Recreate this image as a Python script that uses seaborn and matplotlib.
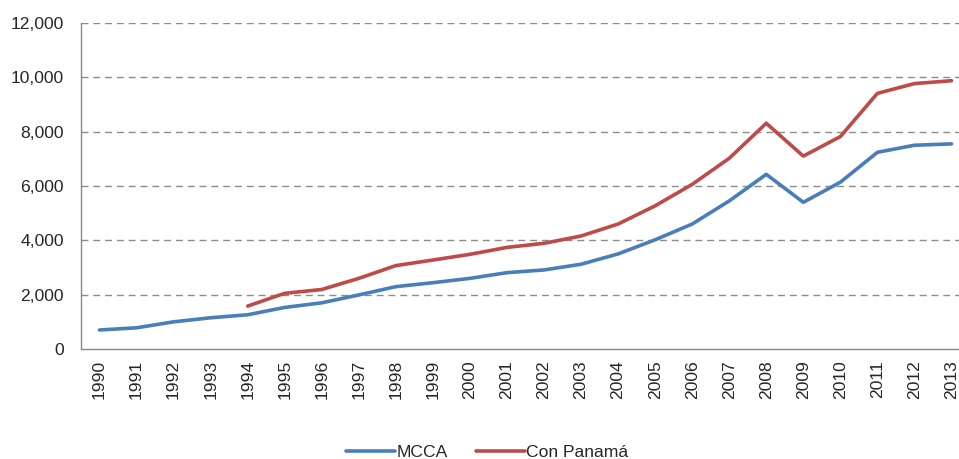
import matplotlib
matplotlib.use("Agg")
import matplotlib.pyplot as plt
import seaborn as sns
import pandas as pd
import numpy as np
from matplotlib.ticker import FuncFormatter, FixedLocator

years = list(range(1990, 2014))
mcca = [700, 780, 1000, 1150, 1260, 1530, 1700, 1990, 2295, 2440, 2600, 2810, 2910,
        3120, 3500, 4020, 4600, 5450, 6430, 5400, 6140, 7240, 7500, 7550]
con_panama = [None, None, None, None, 1580, 2050, 2190, 2600, 3070, 3275, 3485, 3740, 3890,
              4160, 4600, 5270, 6060, 7020, 8310, 7100, 7820, 9410, 9770, 9875]
series_names = ["MCCA", "Con Panamá"]
colors = ["#4A7EBB", "#BE4B48"]
y_ticks = [0, 2000, 4000, 6000, 8000, 10000, 12000]

df = pd.DataFrame({"Año": years * 2,
                   "Valor": mcca + con_panama,
                   "Serie": [series_names[0]] * len(years) + [series_names[1]] * len(years)})
df = df.dropna()

sns.set_style("white")
plt.rcParams["font.family"] = ["Liberation Sans", "DejaVu Sans"]

fig = plt.figure(figsize=(9.59, 4.59), dpi=100)
W, H = 959, 459
left_px, right_px, top_px, bottom_px = 81, 970, 23, 349
ax = fig.add_axes([left_px / W, (H - bottom_px) / H, (right_px - left_px) / W, (bottom_px - top_px) / H])

sns.lineplot(data=df, x="Año", y="Valor", hue="Serie", hue_order=series_names,
             palette=colors, linewidth=2.6, ax=ax, legend=True, sort=False)

ax.set_xlim(years[0] - 0.5, years[-1] + 0.5)
ax.set_ylim(0, 12000)
ax.set_yticks(y_ticks)
ax.yaxis.set_major_formatter(FuncFormatter(lambda v, p: f"{int(v):,}"))
ax.set_xticks(years)
ax.set_xticklabels([str(y) for y in years], rotation=90, fontsize=12.6)
ax.xaxis.set_minor_locator(FixedLocator([y - 0.5 for y in years] + [years[-1] + 0.5]))
ax.tick_params(axis="x", which="major", length=0, pad=8)
ax.tick_params(axis="x", which="minor", length=5, width=1, color="#888888", direction="out")
ax.tick_params(axis="y", which="major", length=5, width=1, color="#888888", direction="out",
               labelsize=12.6, pad=7.5)
ax.set_xlabel("")
ax.set_ylabel("")

ax.grid(False)
for v in y_ticks[1:]:
    ax.axhline(v, color="#8c8c8c", linewidth=1.0, linestyle=(0, (5, 3.5)), zorder=0)

for s in ["top", "right"]:
    ax.spines[s].set_visible(False)
for s in ["left", "bottom"]:
    ax.spines[s].set_color("#888888")
    ax.spines[s].set_linewidth(1.0)

leg = ax.get_legend()
handles = leg.legend_handles
leg.remove()
fig.legend(handles, series_names, loc="center", bbox_to_anchor=(0.508, 0.014), ncol=2,
           frameon=False, fontsize=12.6, handlelength=2.8, columnspacing=1.6, handletextpad=0.1)

fig.savefig("out.png", dpi=100)
